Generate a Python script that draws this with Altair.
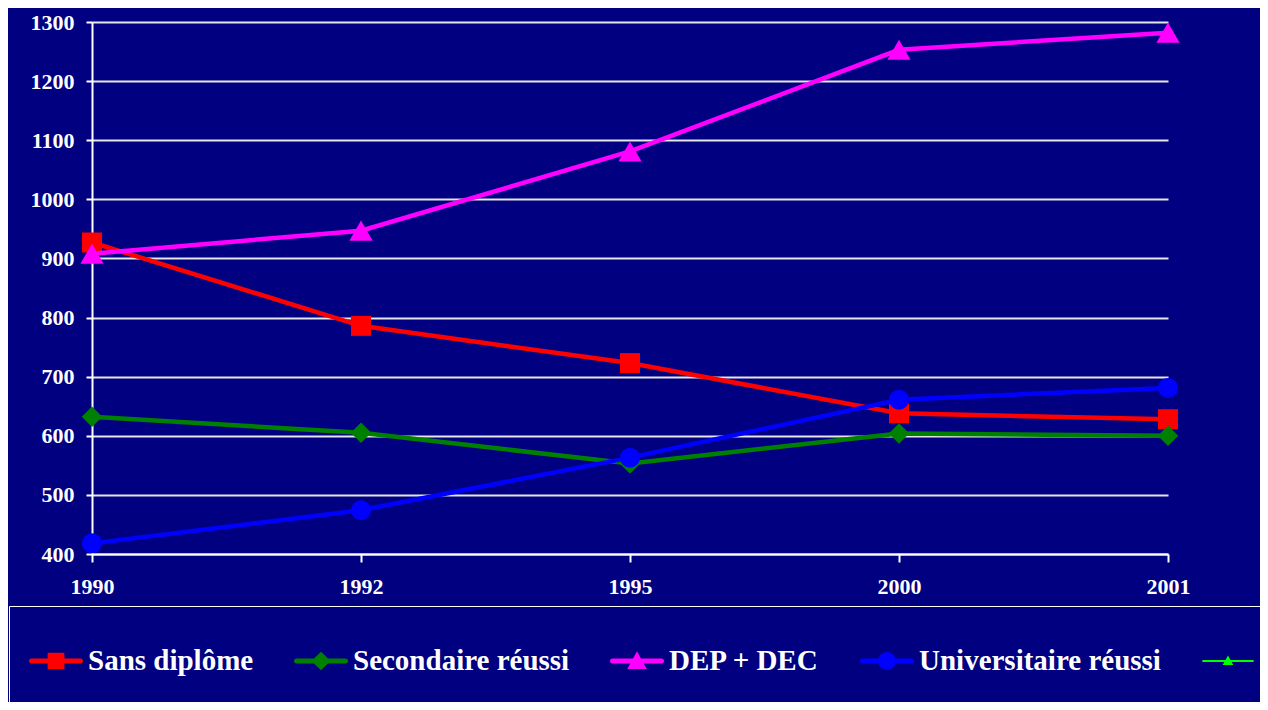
import altair as alt
import pandas as pd

years = ["1990", "1992", "1995", "2000", "2001"]
series_names = ["Sans diplôme", "Secondaire réussi", "DEP + DEC", "Universitaire réussi"]
sans_diplome = [927, 786, 723, 638, 628]
secondaire = [632, 605, 553, 604, 600]
dep_dec = [908, 947, 1081, 1253, 1282]
universitaire = [418, 474, 563, 661, 681]
series_values = [sans_diplome, secondaire, dep_dec, universitaire]
colors = ["#FF0000", "#008000", "#FF00FF", "#0000FF", "#00FF00"]
marker_shapes = ["square", "diamond", "triangle-up", "circle"]
marker_sizes = [400, 420, 540, 400]
legend_names = series_names + [" "]
y_ticks = [400, 500, 600, 700, 800, 900, 1000, 1100, 1200, 1300]

# legend symbols: line + marker (degenerate moves stretch the symbol bounds)
EXT = "M0,-1M0,1 "
LINE = "M-0.91,-0.09H0.91A0.09,0.09 0 0,1 0.91,0.09H-0.91A0.09,0.09 0 0,1 -0.91,-0.09Z "
legend_paths = [
    EXT + LINE + "M-0.31,-0.31H0.31V0.31H-0.31Z",
    EXT + LINE + "M0,-0.34L0.36,0L0,0.34L-0.36,0Z",
    EXT + LINE + "M0,-0.36L0.36,0.3L-0.36,0.3Z",
    EXT + LINE + "M0.33,0A0.33,0.33 0 1,1 -0.33,0A0.33,0.33 0 1,1 0.33,0Z",
    EXT + "M-0.95,-0.035H0.95V0.035H-0.95Z M0,-0.2L0.2,0.15L-0.2,0.15Z",
]

rows = []
for name, vals in zip(series_names, series_values):
    for yr, v in zip(years, vals):
        rows.append({"year": yr, "value": v, "series": name})
df = pd.DataFrame(rows)

FONT = "Liberation Serif"

x_enc = alt.X(
    "year:O",
    scale=alt.Scale(type="point", padding=0),
    axis=alt.Axis(
        title=None, labelAngle=0, grid=False, domainColor="white", domainWidth=2,
        tickColor="white", tickWidth=2, tickSize=8, labelColor="white", labelFont=FONT,
        labelFontWeight="bold", labelFontSize=22, labelPadding=14,
    ),
)
y_enc = alt.Y(
    "value:Q",
    scale=alt.Scale(domain=[400, 1300], nice=False, zero=False),
    axis=alt.Axis(
        title=None, values=y_ticks, format="d", grid=True, gridColor="#E6E6E6", gridWidth=2,
        domainColor="white", domainWidth=2, tickColor="white", tickWidth=2, tickSize=6,
        labelColor="white", labelFont=FONT, labelFontWeight="bold", labelFontSize=22,
        labelPadding=12,
    ),
)

base = alt.Chart(df)
layers = []
for name, col, shp, sz in zip(series_names, colors, marker_shapes, marker_sizes):
    sub = base.transform_filter(alt.datum.series == name)
    layers.append(sub.mark_line(color=col, strokeWidth=4.5).encode(x=x_enc, y=y_enc))
    layers.append(
        sub.mark_point(color=col, shape=shp, size=sz, filled=True, opacity=1, strokeWidth=0)
        .encode(x=x_enc, y=y_enc)
    )

legend = alt.Legend(
    orient="none", legendX=-83, legendY=584, direction="horizontal", columns=5,
    title=" ", titleFontSize=6, titlePadding=2,
    strokeColor="white", padding=20, symbolSize=2916,
    symbolStrokeWidth=0, symbolOpacity=1, labelFont=FONT, labelFontWeight="bold",
    labelFontSize=29, labelColor="white", labelOffset=5, labelLimit=600,
    columnPadding=40,
)
legend_layer = base.mark_point(filled=True, opacity=0).encode(
    x=x_enc, y=y_enc,
    color=alt.Color("series:N", scale=alt.Scale(domain=legend_names, range=colors), legend=legend),
    shape=alt.Shape("series:N", scale=alt.Scale(domain=legend_names, range=legend_paths), legend=legend),
)
layers.append(legend_layer)

chart = (
    alt.layer(*layers)
    .properties(
        width=1076, height=532, background="#000080",
        padding={"left": 84, "top": 14, "right": 92, "bottom": 148},
        autosize=alt.AutoSizeParams(type="none"),
    )
    .configure_view(stroke=None)
)

chart.save("out.html", embed_options={"renderer": "svg", "actions": False})
